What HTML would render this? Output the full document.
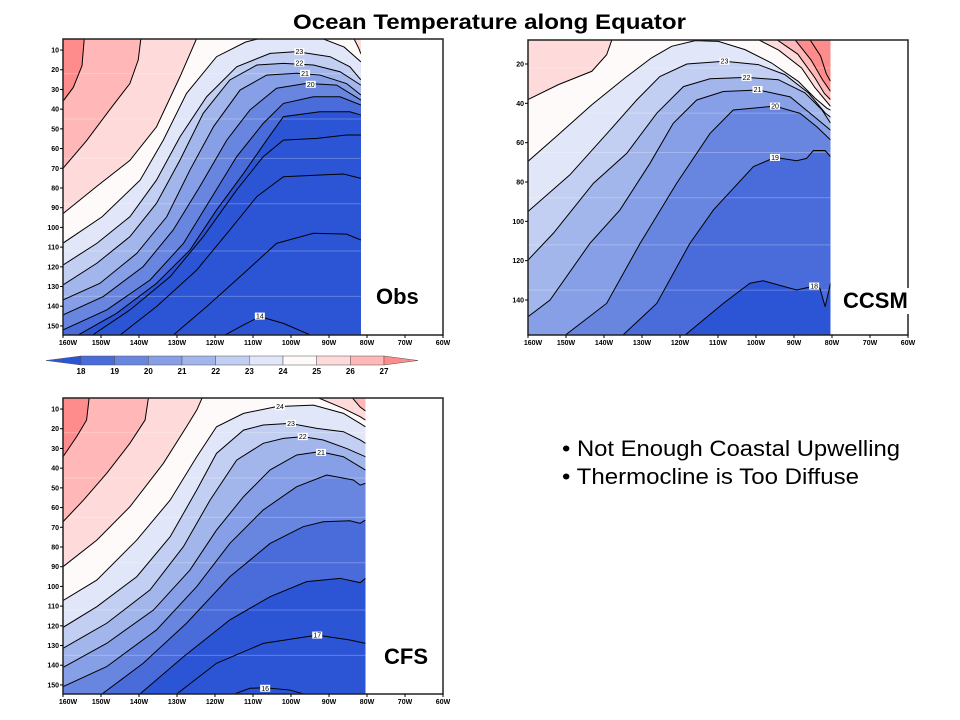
<!DOCTYPE html>
<html><head><meta charset="utf-8"><title>Ocean Temperature along Equator</title>
<style>
html,body{margin:0;padding:0;background:#fff;}
svg{display:block;font-family:"Liberation Sans",Arial,sans-serif;}
</style></head>
<body>
<svg id="chart" width="960" height="720" viewBox="0 0 960 720" xmlns="http://www.w3.org/2000/svg">
<text x="293" y="29" font-size="21" font-weight="bold" textLength="393" lengthAdjust="spacingAndGlyphs">Ocean Temperature along Equator</text>
<text x="562" y="456" font-size="22.5" textLength="338" lengthAdjust="spacingAndGlyphs">• Not Enough Coastal Upwelling</text>
<text x="562" y="484" font-size="22.5" textLength="297" lengthAdjust="spacingAndGlyphs">• Thermocline is Too Diffuse</text>
</svg>
<script>
// ---- colour scale data ----
const cbLevels = [18,19,20,21,22,23,24,25,26,27];
const bandColors = ['#2c55d6','#4a6cdb','#6886e0','#869fe6','#a3b6ec','#c2cff2','#e1e7f9','#fffafa','#ffdada','#ffb7b7','#ff8c8c'];
const xTickLabels = ['160W','150W','140W','130W','120W','110W','100W','90W','80W','70W','60W'];
const xTickLons = [-160,-150,-140,-130,-120,-110,-100,-90,-80,-70,-60];
const obsDepthTicks = [10,20,30,40,50,60,70,80,90,100,110,120,130,140,150];
const ccsmDepthTicks = [20,40,60,80,100,120,140];

// ---- Obs contours: [level, type, points(lon,depth)] ----
const obsContours = [
 [27,'tl',[[-160,36],[-157.3,29],[-155,18],[-154.4,4]]],
 [26,'tl',[[-160,70],[-153.8,56],[-147.6,40],[-142.4,27],[-140.2,15],[-139.5,4]]],
 [25,'tl',[[-160,93],[-151,79],[-142.4,66],[-135.4,49],[-129.2,23.5],[-124.8,4]]],
 [25,'tr',[[-83.5,4],[-82.2,9],[-81.6,12]]],
 [24,'tl',[[-160,108],[-149.7,94.6],[-139.7,76],[-133.6,55.7],[-127.5,32],[-119.6,13.4],[-112,6],[-108,4]]],
 [24,'tr',[[-92,4],[-86,8.5],[-81.6,16]]],
 [23,'tl',[[-160,119.1],[-151.1,108.1],[-142.4,94.6],[-135.4,76],[-129.2,54],[-122.2,33.7],[-114.3,18.5],[-105.5,11.7],[-98.5,10.8],[-89.7,13.4],[-84.5,18.5],[-81.6,25.2]]],
 [22,'tl',[[-160,129.2],[-151.1,118.2],[-142.4,104.7],[-135.4,87.8],[-129.2,65.8],[-123.1,42.1],[-116.1,25.2],[-109,17.6],[-102,16.8],[-94.1,17.6],[-87.1,21],[-81.6,27.8]]],
 [21,'tl',[[-160,136.8],[-150.3,128.4],[-140.6,113.2],[-132.7,94.6],[-126.6,70.9],[-120.4,48.9],[-113.4,30.3],[-106.4,22.7],[-98.5,21.8],[-92.4,22.7],[-85.4,27],[-81.6,32.8]]],
 [20,'tl',[[-160,144.4],[-149.4,135.1],[-138.9,119.9],[-131,101.3],[-124,79.3],[-116.9,55.7],[-110.8,40.4],[-103.8,29.4],[-95.9,26.9],[-88,27.8],[-81.6,35.4]]],
 [19,'tl',[[-160,152],[-148.5,141.9],[-137.1,126.7],[-128.3,108.1],[-121.3,86.1],[-114.3,64.1],[-107.3,47.2],[-102,37.1],[-94.1,33.7],[-87.1,33.7],[-81.6,37.9]]],
 [18,'tl',[[-157.3,156],[-145.9,143.6],[-135.4,128.4],[-126.6,111.5],[-119.6,91.2],[-112.5,72.6],[-106.4,55.7],[-102,43.8],[-92.4,41.3],[-84.5,41.3],[-81.6,43]]],
 [17,'tl',[[-153.3,156],[-142.4,141.9],[-131.8,125],[-123.1,104.7],[-114.3,81],[-107.3,64.1],[-102,55.7],[-93.2,54.8],[-85.4,53.1],[-81.6,53.1]]],
 [16,'tl',[[-145.9,156],[-135.4,140.2],[-124.8,121.6],[-116.1,101.3],[-109,84.4],[-102,74.3],[-92.4,73.4],[-86.2,72.9],[-81.6,75.1]]],
 [15,'tl',[[-131.8,156],[-122.2,140.2],[-113.4,125],[-103.8,108.1],[-94.1,103],[-85.4,103.4],[-81.6,106.4]]],
 [14,'tl',[[-118.7,156],[-112.5,149.5],[-108.2,145.3],[-102,148.7],[-93.2,156]]]
];
const obsLabels = [[23,-97.8,10.8],[22,-97.8,16.6],[21,-96.3,21.8],[20,-94.8,27.4],[14,-108.2,145]];

// ---- CCSM contours ----
const ccsmContours = [
 [25,'tl',[[-160,38.1],[-152,30.5],[-143.2,23.7],[-139.3,15.3],[-137.8,7]]],
 [25,'tr',[[-100,7],[-94,13],[-88,22],[-84.5,32],[-80.4,41.5]]],
 [26,'tr',[[-95,7],[-89,15],[-84.5,27],[-82,35],[-80.4,38.1]]],
 [27,'tr',[[-90,7],[-85.5,18],[-82.5,28],[-80.4,33.9]]],
 [28,'tr',[[-86,7],[-83,16],[-81.5,25],[-80.4,28.8]]],
 [24,'tl',[[-160,69.5],[-152,55.9],[-143.2,40.7],[-134.5,27.1],[-127.5,16.9],[-122.2,11],[-116,8.1],[-109.9,8.5],[-102.9,12.7],[-95.9,19.5],[-88.9,28.8],[-84.5,37.3],[-81.4,42.4],[-80.4,43.4]]],
 [23,'tl',[[-160,95],[-149,76.4],[-138.4,53.6],[-131.4,38.3],[-125.3,26.4],[-118.2,20],[-108.3,18.6],[-99.4,20.3],[-92.4,25.4],[-86.2,34.7],[-81.8,44.9],[-80.4,47]]],
 [22,'tl',[[-160,119.7],[-153.3,106],[-142.8,80.7],[-134,65.4],[-126.1,45],[-119.1,31.5],[-112.1,27.5],[-102.5,26.8],[-94.1,28],[-87.1,34.7],[-82.7,43.2],[-80.4,50]]],
 [21,'tl',[[-160,148.5],[-154.2,140],[-143.7,111.2],[-135.8,94.2],[-127.9,70.5],[-121.8,50.2],[-115.6,38.3],[-108.6,34],[-99.4,33.2],[-91,36.7],[-85.8,45],[-80.4,53.6]]],
 [20,'tl',[[-151.6,160],[-139.3,141.7],[-130.5,111.2],[-120.9,80.7],[-112.1,55.3],[-106,43.4],[-95,41.4],[-88.4,45.1],[-84,51.9],[-80.4,58.6]]],
 [19,'tl',[[-136.2,160],[-126.1,141.7],[-117.4,111.2],[-111.2,94.2],[-100.7,72.2],[-95,67.5],[-89.3,69.2],[-86.7,68],[-84.9,64],[-81.8,64],[-80.4,67.1]]],
 [18,'tl',[[-120,160],[-108.6,141.7],[-101.6,131.5],[-98.1,130.2],[-89.3,134.9],[-84.7,132.9],[-83.2,134],[-81.8,143.4],[-80.4,131.5]]]
];
const ccsmLabels = [[23,-108.3,18.6],[22,-102.5,26.8],[21,-99.6,33],[20,-95,41.4],[19,-95,67.5],[18,-84.7,132.9]];

// ---- CFS contours ----
const cfsContours = [
 [27,'tl',[[-160,34.2],[-156.4,24],[-153.8,15.6],[-153.1,4]]],
 [26,'tl',[[-160,67.2],[-154.6,56.2],[-148.5,42.6],[-142.4,27.4],[-138.4,15.6],[-137.5,4]]],
 [25,'tl',[[-160,90],[-151.1,76.5],[-142.4,59.6],[-133.6,37.6],[-127.5,19],[-124.8,10.5],[-123.3,4]]],
 [25,'tr',[[-93.2,4],[-86.2,9.7],[-81.8,13.9],[-80.4,15.6]]],
 [26,'tr',[[-84,4],[-81.8,9],[-80.4,11]]],
 [24,'tl',[[-160,107.2],[-151.1,96.8],[-140.6,76.5],[-131.8,56.2],[-124.8,34.2],[-119.6,19],[-112.5,12.2],[-103.8,8.8],[-94.1,8],[-86.2,12.2],[-81.8,17.3],[-80.4,19]]],
 [23,'tl',[[-160,120.8],[-151.1,110.3],[-140.6,95.1],[-131.8,74.8],[-124.8,51.1],[-119.6,32.5],[-112.5,20.7],[-107.3,18.1],[-100.3,17.3],[-93.2,19.8],[-86.2,21.5],[-81.8,25.7],[-80.4,27.4]]],
 [22,'tl',[[-160,131.4],[-148.5,118.7],[-137.1,101.8],[-128.3,79.8],[-121.3,56.2],[-114.3,35.9],[-107.3,27.4],[-102,24.9],[-96.9,24],[-91.5,25.7],[-85.4,30],[-80.4,34.2]]],
 [21,'tl',[[-160,141.1],[-148.5,128.9],[-136.2,112],[-126.6,91.7],[-119.6,71.4],[-112.5,54.5],[-105.5,40.9],[-98.5,33.3],[-92.4,31.6],[-86.2,34.2],[-80.4,41]]],
 [20,'tl',[[-160,150.9],[-148.5,140.7],[-135.4,122.1],[-124.8,100.1],[-116.1,78.2],[-107.3,61.2],[-98.5,49.4],[-90.6,43.5],[-83.6,46],[-81.8,48.6],[-80.4,47.7]]],
 [19,'tl',[[-150.7,156],[-138.9,139],[-127.5,118.7],[-116.1,95.1],[-105.5,78.2],[-96.8,69.7],[-91.5,67.2],[-84.5,66.7],[-81.8,68],[-80.4,66.3]]],
 [18,'tl',[[-140.6,156],[-128.3,135.7],[-116.1,117],[-105.5,105.2],[-95.9,97.6],[-87.1,95.9],[-81.8,98.1],[-80.4,95.9]]],
 [17,'tl',[[-131,156],[-119.6,139],[-107.3,128.9],[-93.1,124.7],[-84.5,127.2],[-80.4,128.9]]],
 [16,'tl',[[-116.9,156],[-110.8,151.7],[-106.8,151.4],[-100.3,152.6],[-94.1,156]]]
];
const cfsLabels = [[24,-102.9,8.8],[23,-100,17.3],[22,-96.9,24],[21,-92.1,32],[17,-93.1,124.7],[16,-106.8,151.7]];

const NS='http://www.w3.org/2000/svg';
const svg=document.getElementById('chart');
function mk(tag,attrs,parent){const e=document.createElementNS(NS,tag);for(const k in attrs)e.setAttribute(k,attrs[k]);(parent||svg).appendChild(e);return e;}
function colorFor(L){return bandColors[Math.max(0,Math.min(10,L-17))];}

function drawPanel(id,cfg,contours,labels,ticks){
  const g=mk('g',{});
  
  
  const xS=lon=>cfg.x0+(lon+160)/100*(cfg.x1-cfg.x0);
  const yS=d=>cfg.y0+(d-cfg.dTop)/(cfg.dBot-cfg.dTop)*(cfg.y1-cfg.y0);
  const xr=xS(cfg.lonEnd);
  const clip=mk('clipPath',{id:id+'-clip'},g);
  mk('rect',{x:cfg.x0,y:cfg.y0,width:xr-cfg.x0,height:cfg.y1-cfg.y0},clip);
  const bg=mk('rect',{x:cfg.x0,y:cfg.y0,width:xr-cfg.x0,height:cfg.y1-cfg.y0,fill:bandColors[0]},g);
  
  
  const fills=mk('g',{'clip-path':'url(#'+id+'-clip)'},g);
  const sorted=contours.slice().sort((a,b)=>a[0]-b[0]);
  const far=cfg.dTop-10, deep=cfg.dBot+10;
  sorted.forEach(c=>{
    const pts=c[2].map(p=>[xS(p[0]),yS(p[1])]);
    if(c[1]==='tr'){pts.push([xS(-70),yS(far)]);}
    else{pts.push([xS(-70),yS(c[2][c[2].length-1][1])],[xS(-70),yS(far)],[xS(-170),yS(far)],[xS(-170),yS(deep)],[xS(c[2][0][0]),yS(deep)]);}
    const p=mk('polygon',{points:pts.map(q=>q.join(',')).join(' '),fill:colorFor(c[0])},fills);
    
    
  });
  [22,45,65,88,112,135].forEach(d=>{mk('line',{x1:cfg.x0,x2:xr,y1:yS(d),y2:yS(d),stroke:'#fff',"stroke-opacity":0.25,"stroke-width":1},fills);});
  const lines=mk('g',{'clip-path':'url(#'+id+'-clip)'},g);
  contours.forEach(c=>{
    const l=mk('polyline',{points:c[2].map(p=>xS(p[0])+','+yS(p[1])).join(' '),fill:'none',stroke:'#000','stroke-width':1},lines);
    
    
  });
  labels.forEach(lb=>{
    const x=xS(lb[1]),y=yS(lb[2]);
    mk('rect',{x:x-5,y:y-3.5,width:10,height:7,fill:'#fff'},g);
    const t=mk('text',{x:x,y:y+2.5,'font-size':7,'text-anchor':'middle'},g);
    t.textContent=lb[0];
    
    
  });
  const fr=mk('rect',{x:cfg.x0,y:cfg.y0,width:cfg.x1-cfg.x0,height:cfg.y1-cfg.y0,fill:'none',stroke:'#222','stroke-width':1.5},g);
  
  
  xTickLons.forEach((lon,i)=>{
    const x=xS(lon);
    mk('line',{x1:x,x2:x,y1:cfg.y1,y2:cfg.y1+3,stroke:'#000'},g);
    const t=mk('text',{x:x+(i===0?5:0),y:cfg.y1+10,'font-size':7,'font-weight':'bold','text-anchor':'middle'},g);
    t.textContent=xTickLabels[i];
    
    
  });
  ticks.forEach(d=>{
    const y=yS(d);
    mk('line',{x1:cfg.x0-3,x2:cfg.x0,y1:y,y2:y,stroke:'#000'},g);
    const t=mk('text',{x:cfg.x0-4,y:y+2.5,'font-size':7,'font-weight':'bold','text-anchor':'end'},g);
    t.textContent=d;
    
    
  });
  const lw=cfg.labelW;
  mk('rect',{x:cfg.lx-3,y:cfg.ly-20,width:lw,height:26,fill:'#fff'},g);
  const nm=mk('text',{x:cfg.lx,y:cfg.ly,'font-size':22,'font-weight':'bold'},g);
  nm.textContent=cfg.name;
  
  
}

drawPanel('obs',{x0:63,y0:39,x1:443,y1:335,dTop:4.4,dBot:154.6,lonEnd:-81.6,name:'Obs',lx:376,ly:304,labelW:0},obsContours,obsLabels,obsDepthTicks);
drawPanel('ccsm',{x0:528,y0:40,x1:908,y1:335,dTop:7.8,dBot:157.8,lonEnd:-80.4,name:'CCSM',lx:843,ly:308,labelW:75},ccsmContours,ccsmLabels,ccsmDepthTicks);
drawPanel('cfs',{x0:63,y0:398,x1:443,y1:694,dTop:4.4,dBot:154.6,lonEnd:-80.4,name:'CFS',lx:384,ly:664,labelW:0},cfsContours,cfsLabels,obsDepthTicks);

// ---- colorbar ----
(function(){
  const g=mk('g',{});
  
  
  const x18=81,x27=384,y0=356,y1=365,w=(x27-x18)/(cbLevels.length-1);
  const cx=L=>x18+(L-cbLevels[0])*w;
  mk('polygon',{points:`46,${(y0+y1)/2} ${x18},${y0} ${x18},${y1}`,fill:bandColors[0],stroke:'#555','stroke-width':0.5},g);
  for(let i=0;i<cbLevels.length-1;i++){
    const r=mk('rect',{x:cx(cbLevels[i]),y:y0,width:w,height:y1-y0,fill:bandColors[i+1],stroke:'#555','stroke-width':0.5},g);
    
    
  }
  mk('polygon',{points:`${x27},${y0} 418,${(y0+y1)/2} ${x27},${y1}`,fill:bandColors[10],stroke:'#555','stroke-width':0.5},g);
  cbLevels.forEach(L=>{
    const t=mk('text',{x:cx(L),y:374,'font-size':8,'font-weight':'bold','text-anchor':'middle'},g);
    t.textContent=L;
    
    
  });
})();
</script>
</body></html>
